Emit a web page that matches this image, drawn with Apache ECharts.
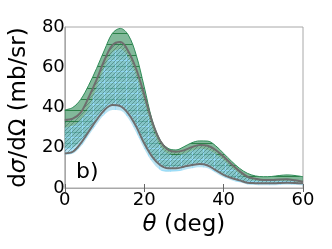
<!DOCTYPE html>
<html><head><meta charset="utf-8">
<script src="https://cdn.jsdelivr.net/npm/echarts@6/dist/echarts.min.js"></script>
<style>html,body{margin:0;padding:0;background:#fff}#c{width:332px;height:249px}</style>
</head><body><div id="c"></div>
<script>
const theta = [0,2,4,6,8,10,12,14,16,18,20,22,24,26,28,30,32,34,36,38,40,42,44,46,48,50,52,54,56,58,60];
const greenHi = [38.8,40,44,51,59.4,68.6,76.9,79.3,76,66,50.3,33.8,23.9,19.7,18.9,20.5,22.5,23.4,23.3,21,17.2,13.3,9.8,7.3,6,5.6,5.7,6.2,6.5,6.2,5.6];
const greenLo = [19.5,20,23.5,29,34.8,39.6,42,41.5,38,31.5,23.2,16.5,12.2,10.5,10.5,11.3,12.1,12.6,11.9,9.6,7.1,5.5,4.2,3,2.8,2.7,2.7,2.9,3,2.9,2.7];
const upperGray = [33.8,34.5,37.5,45,53.7,63.6,71,72.5,68,59,46.5,33,23.5,19,18,18.7,20.3,21.4,21,18.9,15.6,11.8,8.4,5.6,4.6,4,4,4.2,4.3,3.8,3.1];
const lowerGray = [17.2,18,22.2,28,33.8,38.8,41.2,40.7,37,30.5,22.2,15.6,11.4,9.8,9.8,10.6,11.4,11.9,11.2,8.9,6.5,5,3.8,2.6,2.4,2.3,2.3,2.5,2.6,2.5,2.3];
const blueLo = [16.5,17,20.5,26,31.5,36.5,38.8,38.5,34.5,27.5,19.5,13,9,8,8.2,9,9.8,10.3,9.8,7.6,5.3,3.9,2.8,1.8,1.5,1.4,1.4,1.5,1.6,1.5,1.4];
const blueHi = [30,31,34,40,50,60,67.5,69,65,55.5,43,30,21,17,16.2,17,18.5,19.5,19,17,13.8,10.3,7.2,4.8,3.8,3.3,3.3,3.5,3.6,3.2,2.6];
const xTicks = [0,20,40,60];
const yTicks = [0,20,40,60,80];

function pattern(size, draw){
  const cv = document.createElement('canvas');
  cv.width = size; cv.height = size;
  const ctx = cv.getContext('2d');
  draw(ctx, size);
  return {image: cv, repeat: 'repeat'};
}
const greenPat = pattern(11, (c,s)=>{
  c.fillStyle='rgba(46,139,87,0.6)'; c.fillRect(0,0,s,s);
  c.fillStyle='rgba(30,120,60,0.85)'; c.fillRect(0,0,s,1);
});
const bluePat = pattern(11, (c,s)=>{
  c.fillStyle='rgba(135,206,235,0.58)'; c.fillRect(0,0,s,s);
  c.fillStyle='rgba(150,220,250,0.8)'; c.fillRect(0,5,s,1); c.fillRect(5,0,1,s);
});
const hatchPat = pattern(4, (c,s)=>{
  c.strokeStyle='rgba(40,90,90,0.45)'; c.lineWidth=1;
  c.beginPath();
  c.moveTo(0,s); c.lineTo(s,0);
  c.moveTo(-1,1); c.lineTo(1,-1);
  c.moveTo(s-1,s+1); c.lineTo(s+1,s-1);
  c.stroke();
});

const diff = (a,b) => a.map((v,i)=> +(v-b[i]).toFixed(3));
const sm = 0.35;
function base(name, arr, stack){
  return {type:'line', name, stack, data: arr.slice(), smooth: sm, symbol:'none', lineStyle:{opacity:0}, silent:true, z:1};
}
function band(name, hi, lo, stack, fill, lineColor, z){
  return {type:'line', name, stack, data: diff(hi, lo), smooth: sm, symbol:'none',
    lineStyle: lineColor ? {color: lineColor, width: 1} : {opacity: 0},
    areaStyle: {color: fill, opacity: 1}, silent:true, z};
}
const isTick = (idx, val) => xTicks.includes(+val);

const chart = echarts.init(document.getElementById('c'));
const font = 'DejaVu Sans';
chart.setOption({
  animation:false,
  grid:{left:63, right:29, top:27, bottom:61, show:true, borderColor:'#a8a8a8', borderWidth:1},
  xAxis:[{type:'category', data: theta.map(String), boundaryGap:false,
    axisLine:{show:true, lineStyle:{color:'#a8a8a8'}},
    axisTick:{inside:true, length:4, interval:isTick, lineStyle:{color:'#666'}},
    splitLine:{show:false},
    axisLabel:{color:'#000', fontFamily:font, fontSize:18, margin:3, interval:isTick},
    name:'{i|θ} (deg)', nameLocation:'middle', nameGap:20,
    nameTextStyle:{color:'#000', fontFamily:font, fontSize:23, rich:{i:{fontStyle:'italic', fontFamily:font, fontSize:23}}}
  },{type:'category', data: theta.map(String), boundaryGap:false, position:'top',
    axisLine:{show:false}, axisTick:{inside:true, length:4, interval:isTick, lineStyle:{color:'#666'}}, axisLabel:{show:false}, splitLine:{show:false}}],
  yAxis:[{type:'value', min:0, max:80, interval:20,
    axisLine:{show:true, lineStyle:{color:'#a8a8a8'}},
    axisTick:{inside:true, length:4, lineStyle:{color:'#666'}},
    splitLine:{show:false},
    axisLabel:{color:'#000', fontFamily:font, fontSize:18, margin:0},
    name:'d{i|σ}/dΩ (mb/sr)', nameLocation:'middle', nameGap:12,
    nameTextStyle:{color:'#000', fontFamily:font, fontSize:23, rich:{i:{fontStyle:'italic', fontFamily:font, fontSize:23}}}
  },{type:'value', position:'right', min:0, max:80, interval:20,
    axisLine:{show:false}, axisTick:{inside:true, length:4, lineStyle:{color:'#666'}}, axisLabel:{show:false}, splitLine:{show:false}}],
  graphic:[{type:'text', left:76, top:161, style:{text:'b)', font:'22px "DejaVu Sans"', fill:'#000'}, z:100}],
  series:[
    base('gLo', greenLo, 'g'),
    band('green', greenHi, greenLo, 'g', greenPat, '#2e8b57', 2),
    base('bLo', blueLo, 'b'),
    band('blue', blueHi, blueLo, 'b', bluePat, null, 3),
    base('hLo', lowerGray, 'h'),
    band('hatch', upperGray, lowerGray, 'h', hatchPat, null, 4),
    {type:'line', name:'upper', data: upperGray, smooth: sm, symbol:'none', lineStyle:{color:'#6e6e6e', width:2}, z:5},
    {type:'line', name:'lower', data: lowerGray, smooth: sm, symbol:'none', lineStyle:{color:'#6e6e6e', width:2}, z:5}
  ]
});
</script></body></html>
